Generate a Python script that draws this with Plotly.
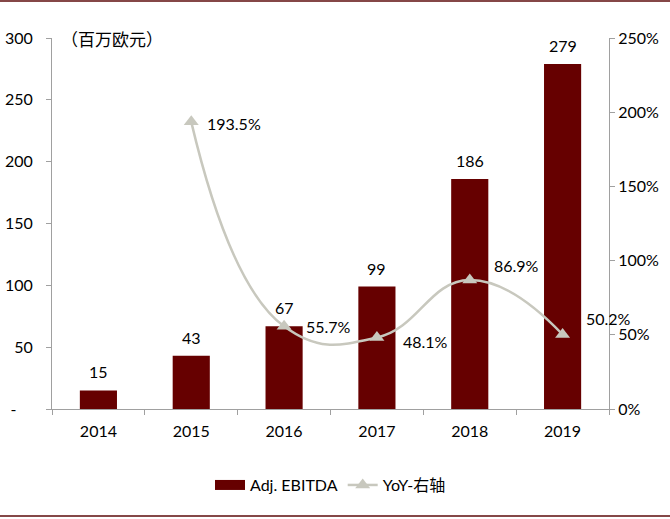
import plotly.graph_objects as go

years = ["2014", "2015", "2016", "2017", "2018", "2019"]
ebitda = [15, 43, 67, 99, 186, 279]
yoy_years = ["2015", "2016", "2017", "2018", "2019"]
yoy = [1.935, 0.557, 0.481, 0.869, 0.502]
yoy_labels = ["193.5%", "55.7%", "48.1%", "86.9%", "50.2%"]
left_ticks = [0, 50, 100, 150, 200, 250, 300]
left_ticktext = ["-&nbsp;&nbsp;&nbsp;&nbsp;", "50", "100", "150", "200", "250", "300"]

FONT = "Lato, 'Noto Sans CJK SC', sans-serif"
BAR_COLOR = "#660000"
LINE_COLOR = "#C8C8BE"
FS = 16

fig = go.Figure()
fig.add_trace(go.Bar(
    x=years, y=ebitda, name="Adj. EBITDA", showlegend=False,
    marker=dict(color=BAR_COLOR, line=dict(width=0)),
))
# legend entry for the bars (wide rectangle swatch)
fig.add_trace(go.Scatter(
    x=[None], y=[None], name="Adj. EBITDA", mode="lines",
    line=dict(color=BAR_COLOR, width=14),
))
fig.add_trace(go.Scatter(
    x=yoy_years, y=yoy, name="YoY-右轴", yaxis="y2",
    mode="lines+markers",
    line=dict(color=LINE_COLOR, width=2.5, shape="spline", smoothing=1.3),
    marker=dict(symbol="triangle-up", size=13, color=LINE_COLOR),
    cliponaxis=False,
))

# bar value labels
for xv, yv in zip(years, ebitda):
    fig.add_annotation(x=years.index(xv), y=yv, xref="x", yref="y", text=str(yv),
                       showarrow=False, xanchor="center", yanchor="bottom", yshift=7,
                       font=dict(size=FS, color="#000000", family=FONT))

shifts = [(14, -2), (20, 0), (24, -4), (22, 15), (21, 16)]
for xv, yv, lab, (dx, dy) in zip(yoy_years, yoy, yoy_labels, shifts):
    fig.add_annotation(x=years.index(xv), y=yv, xref="x", yref="y2", text=lab,
                       showarrow=False, xanchor="left", yanchor="middle",
                       xshift=dx, yshift=dy,
                       font=dict(size=FS, color="#000000", family=FONT))

fig.add_annotation(x=0.012, y=1.0, xref="paper", yref="paper",
                   text="（百万欧元）", showarrow=False,
                   xanchor="left", yanchor="middle",
                   font=dict(size=17, color="#000000", family="'Noto Sans CJK SC', sans-serif"))

# border lines top and bottom
fig.add_shape(type="line", xref="paper", yref="paper",
              x0=-0.1, x1=1.12, y0=1.0997, y1=1.0997,
              line=dict(color="#5C0A0A", width=1.5))
fig.add_shape(type="line", xref="paper", yref="paper",
              x0=-0.1, x1=1.12, y0=-0.2884, y1=-0.2884,
              line=dict(color="#5C0A0A", width=1.5))

fig.update_layout(
    width=670, height=519,
    margin=dict(l=52, r=61, t=38, b=110, autoexpand=False),
    paper_bgcolor="white", plot_bgcolor="white",
    font=dict(family=FONT, size=FS, color="#000000"),
    bargap=0.6,
    showlegend=True,
    legend=dict(orientation="h", x=0.5, xanchor="center", y=-0.205, yanchor="middle",
                font=dict(size=FS, family=FONT), itemwidth=30, traceorder="normal"),
    xaxis=dict(
        type="category", range=[-0.5, 5.5], autorange=False,
        categoryorder="array", categoryarray=years,
        showline=True, linecolor="#A0A0A0", linewidth=1,
        ticks="outside", tickson="boundaries", ticklen=5, tickcolor="#A0A0A0",
        showgrid=False, ticklabelstandoff=8, automargin=False,
        tickfont=dict(size=FS, family=FONT),
    ),
    yaxis=dict(
        range=[0, 300], autorange=False, tickvals=left_ticks, ticktext=left_ticktext,
        showline=True, linecolor="#A0A0A0", linewidth=1,
        ticks="outside", ticklen=5, tickcolor="#A0A0A0",
        showgrid=False, zeroline=False, ticklabelstandoff=10, automargin=False,
        tickfont=dict(size=FS, family=FONT),
    ),
    yaxis2=dict(
        range=[0, 2.5], autorange=False, dtick=0.5, tickformat=".0%",
        overlaying="y", side="right",
        showline=True, linecolor="#A0A0A0", linewidth=1,
        ticks="outside", ticklen=5, tickcolor="#A0A0A0",
        showgrid=False, zeroline=False, automargin=False,
        tickfont=dict(size=FS, family=FONT),
    ),
)

fig.write_html("out.html", config={"displayModeBar": False},
               post_script="document.body.style.margin='0px';")
